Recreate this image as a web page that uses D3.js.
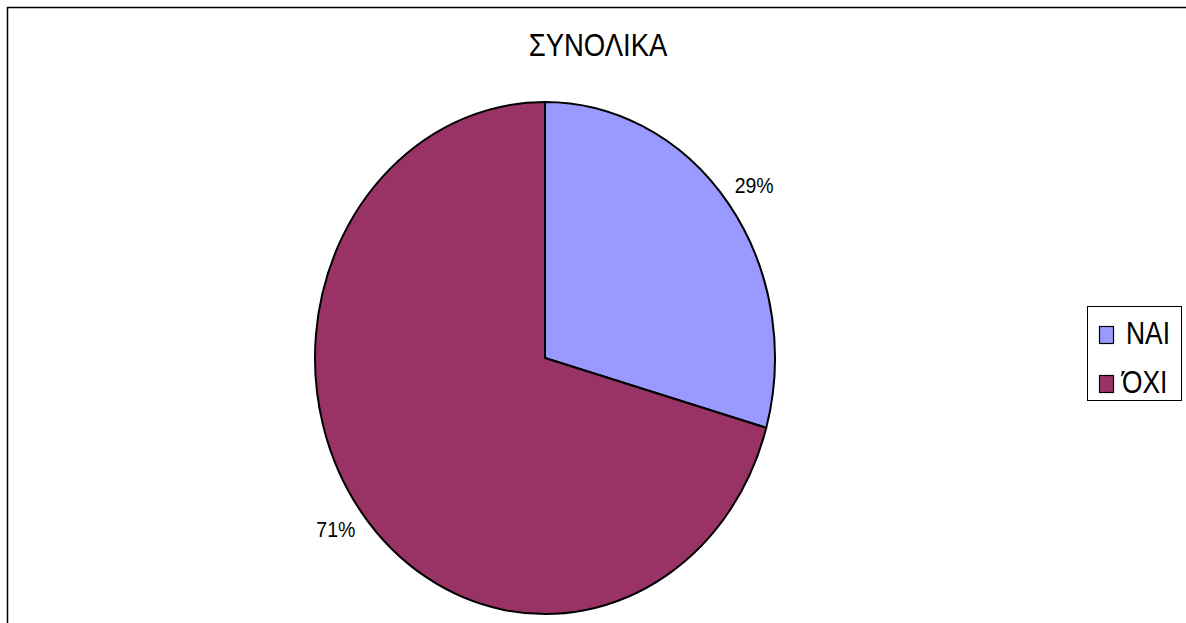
<!DOCTYPE html>
<html>
<head>
<meta charset="utf-8">
<script src="https://cdn.jsdelivr.net/npm/d3@7"></script>
<style>
  html, body { margin: 0; padding: 0; background: #fff; }
  svg { display: block; }
  text { font-family: "Liberation Sans", Arial, sans-serif; fill: #000; }
</style>
</head>
<body>
<svg id="chart" width="1186" height="623"></svg>
<script>
const title = "ΣΥΝΟΛΙΚΑ";
const categories = ["ΝΑΙ", "ΌΧΙ"];
const values = [29.4, 70.6];
const colors = ["#9999FF", "#993366"];

const svg = d3.select("#chart");
const W = 1186, H = 623;
const cx = 545, cy = 358, rx = 230, ry = 256;
const vs = 1.16; // vertical text stretch

// outer chart border
svg.append("rect")
  .attr("x", 7.5).attr("y", 7.5)
  .attr("width", W + 20).attr("height", H + 20)
  .attr("fill", "none").attr("stroke", "#000").attr("stroke-width", 1.5);

// title
svg.append("text")
  .attr("transform", `translate(598,56) scale(1,${vs})`)
  .attr("text-anchor", "middle")
  .attr("font-size", 27.5)
  .text(title);

const total = d3.sum(values);
const pie = d3.pie().sort(null).value(d => d)(values);
const arc = d3.arc().innerRadius(0).outerRadius(rx);

const g = svg.append("g")
  .attr("transform", `translate(${cx},${cy}) scale(1,${ry / rx})`);

g.selectAll("path")
  .data(pie)
  .join("path")
  .attr("d", arc)
  .attr("fill", (d, i) => colors[i])
  .attr("stroke", "#000")
  .attr("stroke-width", 2)
  .attr("stroke-linejoin", "round")
  .attr("vector-effect", "non-scaling-stroke");

// labels outside
const labelArc = d3.arc().innerRadius(rx * 1.14).outerRadius(rx * 1.14);
svg.selectAll("text.lbl")
  .data(pie)
  .join("text")
  .attr("class", "lbl")
  .attr("transform", d => {
    const [x, y] = labelArc.centroid(d);
    return `translate(${cx + x},${cy + y * ry / rx * 0.98 + 7}) scale(1,${vs})`;
  })
  .attr("text-anchor", "middle")
  .attr("font-size", 19.5)
  .text(d => Math.round(d.data / total * 100) + "%");

// legend
const lg = svg.append("g");
lg.append("rect")
  .attr("x", 1087.5).attr("y", 306.5)
  .attr("width", 94).attr("height", 94)
  .attr("fill", "#fff").attr("stroke", "#000").attr("stroke-width", 1);

const legY = d3.scalePoint().domain(categories).range([326, 375]);
categories.forEach((c, i) => {
  lg.append("rect")
    .attr("x", 1099.5).attr("y", legY(c) + 0.5)
    .attr("width", 14).attr("height", 17)
    .attr("fill", colors[i]).attr("stroke", "#000").attr("stroke-width", 1.2);
  lg.append("text")
    .attr("transform", `translate(${i === 0 ? 1126 : 1122},${legY(c) + 18}) scale(1,${vs})`)
    .attr("font-size", 26.4)
    .text(c);
});
</script>
</body>
</html>
